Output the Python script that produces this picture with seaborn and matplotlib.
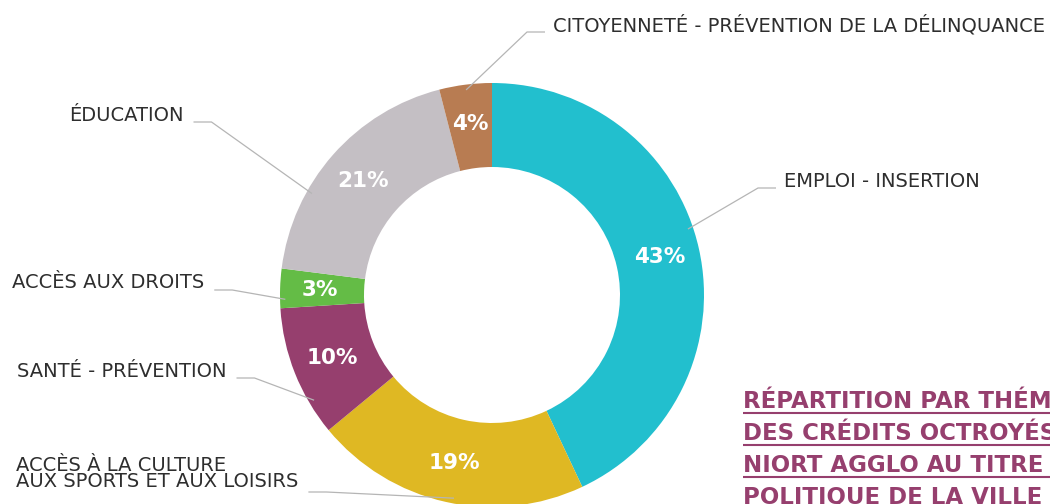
import matplotlib
matplotlib.use('Agg')
import numpy as np
import seaborn as sns
import matplotlib.pyplot as plt

# Themes, clockwise from the top of the ring
themes = ['EMPLOI - INSERTION',
          'ACCÈS À LA CULTURE\nAUX SPORTS ET AUX LOISIRS',
          'SANTÉ - PRÉVENTION',
          'ACCÈS AUX DROITS',
          'ÉDUCATION',
          'CITOYENNETÉ - PRÉVENTION DE LA DÉLINQUANCE']
# wedge sizes as drawn in the picture (%)
shares = [43, 21, 10, 3, 19, 4]
# percentages as printed on the wedges
pct_labels = ['43%', '19%', '10%', '3%', '21%', '4%']
colors = ['#22bfce', '#dfb823', '#963f6e', '#64bc46', '#c4bfc4', '#b87c52']

title_lines = ['RÉPARTITION PAR THÉMATIQUE',
               'DES CRÉDITS OCTROYÉS PAR',
               'NIORT AGGLO AU TITRE DE LA',
               'POLITIQUE DE LA VILLE']

# Layout (pixel space, y downwards)
W, H = 1050, 504
center = (492, 295)
radius = 212
ring = 84
label_pos = [(784, 187), (16, 487), (17, 377), (12, 288), (69, 121), (553, 31)]
line_y = [188, 492, 378, 290, 122, 32]
anchor_nudge = [-6, -2, -9, -3, -12, 0]   # degrees, data orientation
label_color = '#2e2e2e'
leader_color = '#b5b5b5'
title_color = '#963f6e'

sns.set_theme(style='white')
plt.rcParams['font.family'] = ['DejaVu Sans']

fig = plt.figure(figsize=(W / 100, H / 100), dpi=100, facecolor='white')
ax = fig.add_axes([0, 0, 1, 1])

wedges, _, autotexts = ax.pie(
    shares, colors=colors, center=center, radius=radius,
    startangle=-90, counterclock=True,
    autopct='%1.0f%%', pctdistance=(radius - ring / 2 + 2) / radius,
    wedgeprops=dict(width=ring, linewidth=0),
    textprops=dict(color='white', fontsize=15.5, fontweight='bold'))
for t, lab in zip(autotexts, pct_labels):
    t.set_text(lab)

ax.set_xlim(0, W)
ax.set_ylim(H, 0)
ax.set_aspect('equal')
ax.axis('off')

# Theme labels
label_texts = []
for name, (x, y) in zip(themes, label_pos):
    rows = name.split('\n')
    group = []
    for k, row in enumerate(rows):
        yy = y - 16 * (len(rows) - 1 - k)
        group.append(ax.text(x, yy, row, ha='left', va='baseline',
                             fontsize=14, color=label_color))
    label_texts.append(group)

fig.canvas.draw()
renderer = fig.canvas.get_renderer()
inv = ax.transData.inverted()

for i, (w, group) in enumerate(zip(wedges, label_texts)):
    theta = np.deg2rad((w.theta1 + w.theta2) / 2 + anchor_nudge[i])
    r = radius * 0.975
    ax_x = center[0] + r * np.cos(theta)
    ax_y = center[1] + r * np.sin(theta)
    boxes = [inv.transform(t.get_window_extent(renderer)) for t in group]
    left = min(b[:, 0].min() for b in boxes)
    right = max(b[:, 0].max() for b in boxes)
    y0 = line_y[i]
    if ax_x > left:   # label to the left of the ring
        xs = [right + 10, right + 28, ax_x]
    else:             # label to the right of the ring
        xs = [left - 8, left - 26, ax_x]
    ax.plot(xs, [y0, y0, ax_y], color=leader_color, lw=0.9,
            solid_capstyle='butt', zorder=1)

# Title block with underlines (runs off the right edge as in the source)
for k, line in enumerate(title_lines):
    base = 408 + 32 * k
    t = ax.text(743, base, line, ha='left', va='baseline', fontsize=16.5,
                fontweight='bold', color=title_color)
    fig.canvas.draw()
    bb = inv.transform(t.get_window_extent(renderer))
    ax.plot([743, bb[:, 0].max()], [base + 5, base + 5], color=title_color,
            lw=1.5, solid_capstyle='butt', clip_on=False)

fig.savefig('out.png', dpi=100, facecolor='white')
